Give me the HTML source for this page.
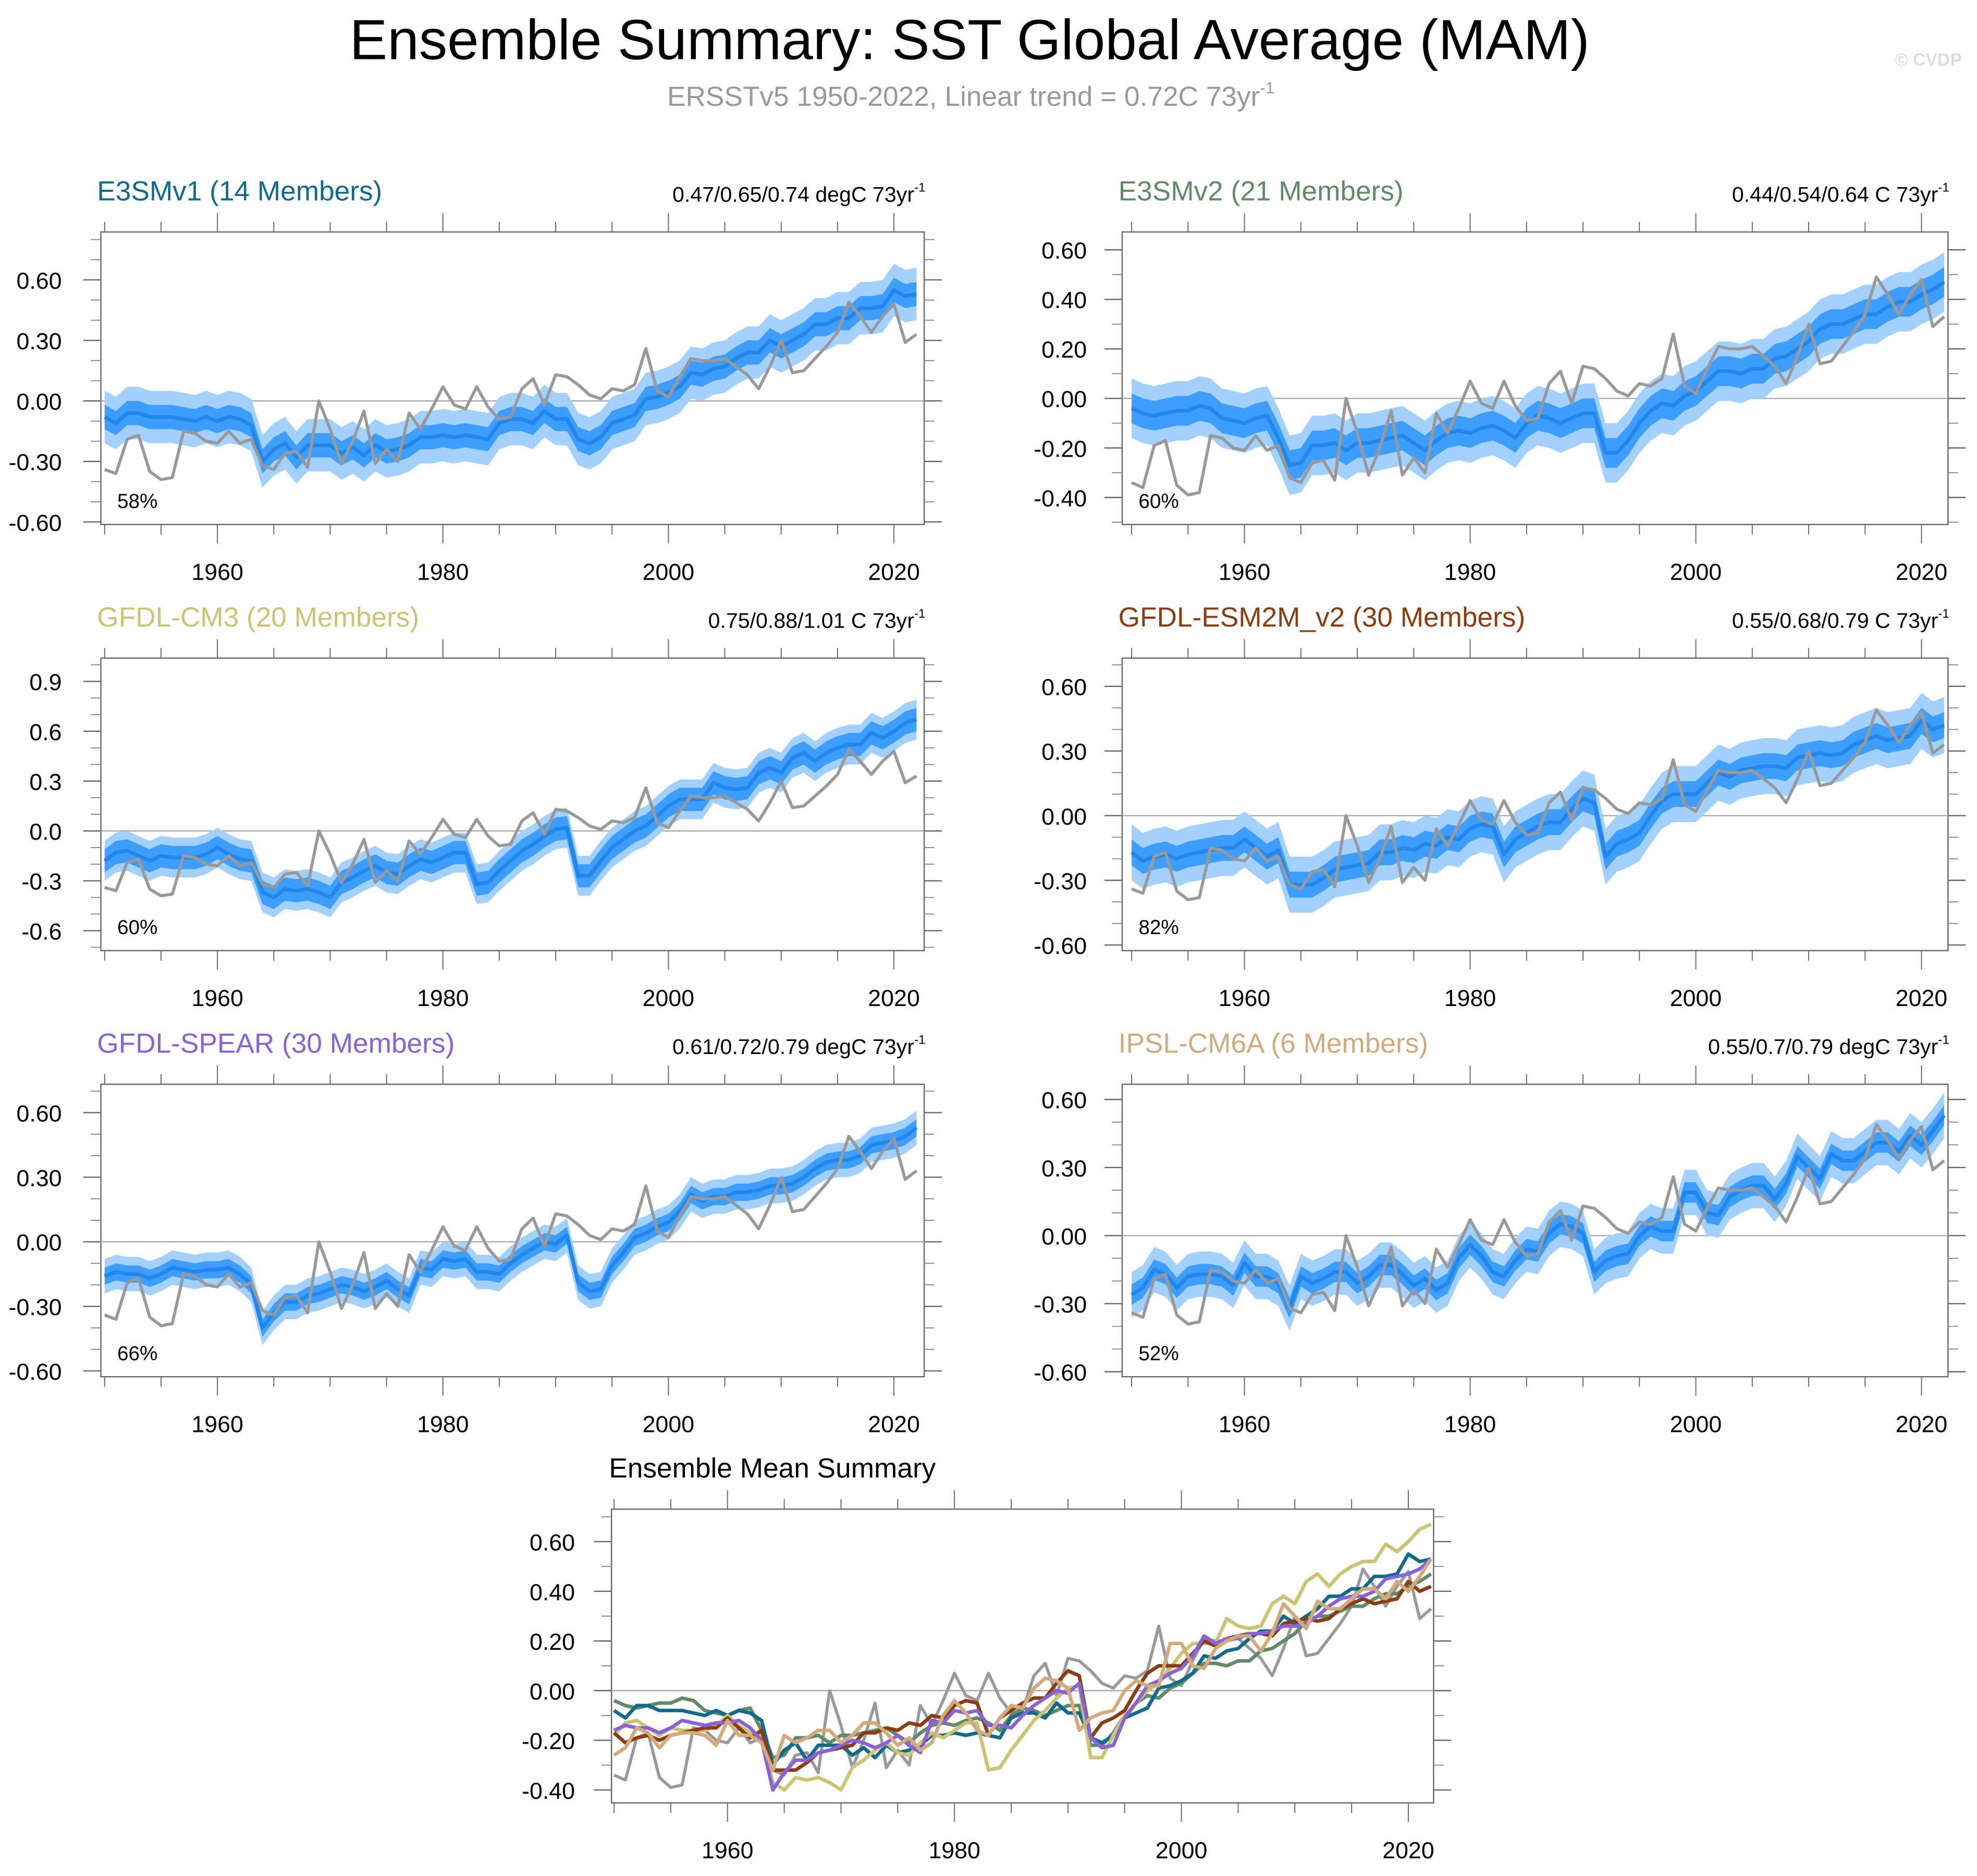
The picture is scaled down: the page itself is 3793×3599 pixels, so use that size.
<!DOCTYPE html>
<html><head><meta charset="utf-8">
<style>
html,body{margin:0;padding:0;background:#fff;}
svg{display:block;}
text{font-family:"Liberation Sans",sans-serif;}
</style></head>
<body>
<svg id="chart" xmlns="http://www.w3.org/2000/svg" width="3793" height="3599" viewBox="0 0 1568 1488" preserveAspectRatio="none">
<rect x="0" y="0" width="1568" height="1488" fill="#fff"/>
<text x="769" y="47" font-size="45" text-anchor="middle" fill="#000">Ensemble Summary: SST Global Average (MAM)</text>
<text x="770" y="84" font-size="22" text-anchor="middle" fill="#999">ERSSTv5 1950-2022, Linear trend = 0.72C 73yr<tspan font-size="13" dy="-10">-1</tspan></text>
<text x="1556" y="52" font-size="14" font-weight="bold" text-anchor="end" fill="#ddd">© CVDP</text>
</svg>
<script>
const years = [];
for (let y = 1950; y <= 2022; y++) years.push(y);

const obs = [-0.34,-0.36,-0.19,-0.17,-0.35,-0.39,-0.38,-0.15,-0.16,-0.20,
 -0.21,-0.15,-0.21,-0.19,-0.32,-0.34,-0.26,-0.25,-0.33,0.00,
 -0.14,-0.31,-0.20,-0.05,-0.31,-0.24,-0.30,-0.06,-0.14,-0.04,
 0.07,-0.02,-0.04,0.07,-0.03,-0.09,-0.08,0.06,0.11,-0.02,
 0.13,0.12,0.08,0.03,0.01,0.06,0.05,0.08,0.26,0.05,
 0.02,0.12,0.21,0.20,0.20,0.21,0.17,0.13,0.06,0.17,
 0.30,0.14,0.15,0.21,0.27,0.34,0.49,0.42,0.34,0.42,
 0.48,0.29,0.33];

const e3smv1 = [-0.08,-0.11,-0.06,-0.06,-0.08,-0.08,-0.08,-0.09,-0.10,-0.08,
 -0.10,-0.08,-0.09,-0.12,-0.30,-0.24,-0.21,-0.28,-0.22,-0.22,
 -0.22,-0.26,-0.23,-0.27,-0.22,-0.25,-0.24,-0.22,-0.18,-0.18,
 -0.17,-0.18,-0.17,-0.18,-0.19,-0.11,-0.09,-0.09,-0.11,-0.05,
 -0.09,-0.09,-0.19,-0.21,-0.18,-0.11,-0.09,-0.07,0.01,0.02,
 0.04,0.07,0.14,0.13,0.16,0.17,0.21,0.24,0.24,0.30,
 0.27,0.30,0.33,0.38,0.38,0.41,0.41,0.46,0.46,0.47,
 0.55,0.52,0.53];

const e3smv2 = [-0.04,-0.06,-0.07,-0.06,-0.05,-0.05,-0.03,-0.04,-0.08,-0.09,
 -0.10,-0.08,-0.07,-0.16,-0.27,-0.26,-0.19,-0.19,-0.18,-0.21,
 -0.18,-0.18,-0.17,-0.16,-0.15,-0.18,-0.21,-0.17,-0.14,-0.13,
 -0.14,-0.12,-0.11,-0.13,-0.16,-0.10,-0.07,-0.08,-0.10,-0.08,
 -0.06,-0.06,-0.22,-0.22,-0.17,-0.10,-0.05,-0.02,-0.03,0.01,
 0.03,0.07,0.11,0.11,0.10,0.12,0.12,0.16,0.17,0.20,
 0.23,0.28,0.30,0.30,0.32,0.34,0.34,0.37,0.39,0.39,
 0.42,0.44,0.47];

const cm3 = [-0.18,-0.13,-0.12,-0.15,-0.18,-0.15,-0.16,-0.16,-0.16,-0.14,
 -0.10,-0.14,-0.17,-0.18,-0.37,-0.40,-0.35,-0.36,-0.35,-0.37,
 -0.40,-0.31,-0.28,-0.24,-0.21,-0.25,-0.26,-0.21,-0.17,-0.19,
 -0.16,-0.13,-0.13,-0.32,-0.31,-0.24,-0.18,-0.12,-0.08,-0.03,
 0.01,0.02,-0.27,-0.27,-0.18,-0.10,-0.05,0.00,0.03,0.09,
 0.15,0.19,0.19,0.19,0.29,0.26,0.25,0.26,0.35,0.38,
 0.35,0.44,0.47,0.42,0.47,0.50,0.52,0.52,0.59,0.56,
 0.60,0.65,0.67];

const esm2m = [-0.17,-0.21,-0.19,-0.18,-0.20,-0.18,-0.17,-0.16,-0.15,-0.15,
 -0.11,-0.15,-0.19,-0.16,-0.32,-0.32,-0.32,-0.29,-0.25,-0.24,
 -0.23,-0.22,-0.17,-0.17,-0.15,-0.16,-0.13,-0.14,-0.10,-0.11,
 -0.06,-0.04,-0.05,-0.18,-0.11,-0.08,-0.05,-0.03,-0.03,0.03,
 0.08,0.06,-0.19,-0.13,-0.11,-0.08,0.00,0.07,0.10,0.10,
 0.10,0.15,0.20,0.18,0.21,0.22,0.23,0.23,0.22,0.27,
 0.28,0.29,0.28,0.29,0.33,0.35,0.37,0.35,0.36,0.37,
 0.44,0.40,0.42];

const spear = [-0.16,-0.14,-0.15,-0.15,-0.17,-0.15,-0.12,-0.13,-0.14,-0.13,
 -0.13,-0.12,-0.15,-0.20,-0.40,-0.33,-0.28,-0.28,-0.25,-0.24,
 -0.22,-0.20,-0.21,-0.23,-0.21,-0.18,-0.22,-0.25,-0.12,-0.13,
 -0.08,-0.09,-0.08,-0.14,-0.14,-0.15,-0.10,-0.06,-0.03,0.00,
 -0.01,0.03,-0.19,-0.23,-0.22,-0.11,-0.05,0.02,0.04,0.07,
 0.09,0.14,0.22,0.19,0.21,0.21,0.23,0.23,0.24,0.26,
 0.26,0.27,0.30,0.34,0.37,0.38,0.38,0.40,0.45,0.46,
 0.47,0.49,0.53];

const ipsl = [-0.26,-0.23,-0.15,-0.17,-0.23,-0.18,-0.17,-0.17,-0.18,-0.22,
 -0.12,-0.18,-0.18,-0.21,-0.32,-0.18,-0.21,-0.19,-0.16,-0.16,
 -0.21,-0.18,-0.13,-0.13,-0.17,-0.22,-0.19,-0.24,-0.21,-0.10,
 -0.04,-0.09,-0.16,-0.18,-0.11,-0.06,-0.07,0.01,0.05,0.04,
 0.01,-0.16,-0.11,-0.09,-0.08,0.00,0.04,0.02,0.02,0.19,
 0.19,0.10,0.09,0.17,0.20,0.22,0.22,0.16,0.23,0.35,
 0.30,0.25,0.36,0.33,0.33,0.37,0.41,0.41,0.37,0.44,
 0.40,0.46,0.53];

const modelNames = ["E3SMv1 (14 Members)","E3SMv2 (21 Members)","GFDL-CM3 (20 Members)","GFDL-ESM2M_v2 (30 Members)","GFDL-SPEAR (30 Members)","IPSL-CM6A (6 Members)"];
const trendLabels = ["0.47/0.65/0.74 degC 73yr","0.44/0.54/0.64 C 73yr","0.75/0.88/1.01 C 73yr","0.55/0.68/0.79 C 73yr","0.61/0.72/0.79 degC 73yr","0.55/0.7/0.79 degC 73yr"];
const pctLabels = ["58%","60%","60%","82%","66%","52%"];
const innerHalf = [0.06,0.06,0.07,0.06,0.04,0.045];
const outerHalf = [0.13,0.12,0.12,0.13,0.08,0.10];
const yTickValues = [
 [-0.6,-0.3,0,0.3,0.6],
 [-0.4,-0.2,0,0.2,0.4,0.6],
 [-0.6,-0.3,0,0.3,0.6,0.9],
 [-0.6,-0.3,0,0.3,0.6],
 [-0.6,-0.3,0,0.3,0.6],
 [-0.6,-0.3,0,0.3,0.6]];
const yTickLabels = [
 ["-0.60","-0.30","0.00","0.30","0.60"],
 ["-0.40","-0.20","0.00","0.20","0.40","0.60"],
 ["-0.6","-0.3","0.0","0.3","0.6","0.9"],
 ["-0.60","-0.30","0.00","0.30","0.60"],
 ["-0.60","-0.30","0.00","0.30","0.60"],
 ["-0.60","-0.30","0.00","0.30","0.60"]];
const xTickYears = [1960,1980,2000,2020];
const ensTickValues = [-0.4,-0.2,0,0.2,0.4,0.6];
const ensTickLabels = ["-0.40","-0.20","0.00","0.20","0.40","0.60"];

const svg = document.getElementById('chart');
const NS = 'http://www.w3.org/2000/svg';
function mk(tag, attrs, parent) {
  const e = document.createElementNS(NS, tag);
  for (const k in attrs) e.setAttribute(k, attrs[k]);
  (parent || svg).appendChild(e);
  return e;
}

const modelSeries = [e3smv1,e3smv2,cm3,esm2m,spear,ipsl];
const titleColors = ["#0f6a8b","#5f8b68","#cbc475","#8a3d12","#8a62d8","#d2ab7c"];
const lineColors = ["#0f6a8b","#5f8b68","#cbc475","#8a3d12","#8a62d8","#d2ab7c"];

const panels = [
 {x0:80,x1:733,y0:184,y1:416,vTop:0.8375,vBot:-0.6125,minor:0.1,tx:49},
 {x0:890,x1:1545,y0:184,y1:416,vTop:0.672,vBot:-0.509,minor:0.1,tx:862},
 {x0:80,x1:733,y0:522,y1:754,vTop:1.04,vBot:-0.72,minor:0.1,tx:49},
 {x0:890,x1:1545,y0:522,y1:754,vTop:0.731,vBot:-0.626,minor:0.1,tx:862},
 {x0:80,x1:733,y0:860,y1:1092,vTop:0.732,vBot:-0.627,minor:0.1,tx:49},
 {x0:890,x1:1545,y0:860,y1:1092,vTop:0.667,vBot:-0.622,minor:0.1,tx:862}
];

function axesFor(p, x1950, x2020) {
  const sx = y => x1950 + (y - 1950) * (x2020 - x1950) / 70;
  const sy = v => p.y0 + (p.vTop - v) * (p.y1 - p.y0) / (p.vTop - p.vBot);
  return {sx, sy};
}

function drawFrame(g, p, sx, sy, ticks, labels) {
  mk('rect', {x:p.x0,y:p.y0,width:p.x1-p.x0,height:p.y1-p.y0,fill:'#fff',stroke:'#666','stroke-width':1}, g);
  const zl = mk('line', {x1:p.x0,x2:p.x1,y1:sy(0),y2:sy(0),stroke:'#aaa','stroke-width':1}, g);
  
  
  for (let yr = 1950; yr <= 2020; yr += 5) {
    const major = yr % 20 === 0;
    const L = major ? 15 : 8;
    const x = sx(yr);
    mk('line', {x1:x,x2:x,y1:p.y0,y2:p.y0-L,stroke:'#666','stroke-width':0.8}, g);
    mk('line', {x1:x,x2:x,y1:p.y1,y2:p.y1+L,stroke:'#666','stroke-width':0.8}, g);
  }
  xTickYears.forEach(yr => {
    const t = mk('text', {x:sx(yr), y:p.y1+44, 'font-size':18.5, 'text-anchor':'middle', fill:'#000'}, g);
    t.textContent = String(yr);
    
    
  });
  const start = Math.ceil(p.vBot / p.minor - 1e-6), end = Math.floor(p.vTop / p.minor + 1e-6);
  for (let i = start; i <= end; i++) {
    const y = sy(i * p.minor);
    mk('line', {x1:p.x0,x2:p.x0-8,y1:y,y2:y,stroke:'#888','stroke-width':0.8}, g);
    mk('line', {x1:p.x1,x2:p.x1+8,y1:y,y2:y,stroke:'#888','stroke-width':0.8}, g);
  }
  ticks.forEach((v, i) => {
    const y = sy(v);
    mk('line', {x1:p.x0,x2:p.x0-14,y1:y,y2:y,stroke:'#666','stroke-width':1}, g);
    mk('line', {x1:p.x1,x2:p.x1+14,y1:y,y2:y,stroke:'#666','stroke-width':1}, g);
    const t = mk('text', {x:p.tx, y:y+7, 'font-size':18.5, 'text-anchor':'end', fill:'#000'}, g);
    t.textContent = labels[i];
    
    
  });
}

function linePath(arr, sx, sy) {
  return arr.map((v, i) => (i ? 'L' : 'M') + sx(years[i]).toFixed(2) + ',' + sy(v).toFixed(2)).join('');
}
function bandPath(arr, h, sx, sy) {
  let d = arr.map((v, i) => (i ? 'L' : 'M') + sx(years[i]).toFixed(2) + ',' + sy(v + h).toFixed(2)).join('');
  for (let i = arr.length - 1; i >= 0; i--) d += 'L' + sx(years[i]).toFixed(2) + ',' + sy(arr[i] - h).toFixed(2);
  return d + 'Z';
}

panels.forEach((p, k) => {
  const g = mk('g', {});
  
  
  const left = p.x0 < 500;
  const {sx, sy} = left ? axesFor(p, 83, 709) : axesFor(p, 897.5, 1524);
  drawFrame(g, p, sx, sy, yTickValues[k], yTickLabels[k]);
  const data = modelSeries[k];
  const outer = mk('path', {d:bandPath(data, outerHalf[k], sx, sy), fill:'#a3d1ff', stroke:'none'}, g);
  
  
  const inner = mk('path', {d:bandPath(data, innerHalf[k], sx, sy), fill:'#3d9eff', stroke:'none'}, g);
  
  
  const mean = mk('path', {d:linePath(data, sx, sy), fill:'none', stroke:'#2187ea', 'stroke-width':3, 'stroke-linejoin':'round'}, g);
  
  
  const ob = mk('path', {d:linePath(obs, sx, sy), fill:'none', stroke:'#999', 'stroke-width':2.4, 'stroke-linejoin':'round'}, g);
  
  
  const t = mk('text', {x:p.x0-3, y:p.y0-25, 'font-size':22, fill:titleColors[k]}, g);
  t.textContent = modelNames[k];
  
  
  const tr = mk('text', {x:p.x1+1, y:p.y0-24, 'font-size':17, 'text-anchor':'end', fill:'#000'}, g);
  tr.textContent = trendLabels[k];
  const sup = mk('tspan', {'font-size':10, dy:-8}, tr);
  sup.textContent = '-1';
  
  
  const pc = mk('text', {x:p.x0+13, y:p.y1-13, 'font-size':16, fill:'#000'}, g);
  pc.textContent = pctLabels[k];
  
  
});

(function(){
  const p = {x0:485,x1:1137,y0:1197,y1:1430,vTop:0.731,vBot:-0.452,minor:0.1,tx:456};
  const g = mk('g', {});
  
  
  const {sx, sy} = axesFor(p, 487, 1117);
  drawFrame(g, p, sx, sy, ensTickValues, ensTickLabels);
  const ob = mk('path', {d:linePath(obs, sx, sy), fill:'none', stroke:'#999', 'stroke-width':2.4, 'stroke-linejoin':'round'}, g);
  
  
  const order = [1,0,2,3,4,5];
  order.forEach(k => {
    const l = mk('path', {d:linePath(modelSeries[k], sx, sy), fill:'none', stroke:lineColors[k], 'stroke-width':2.8, 'stroke-linejoin':'round'}, g);
    
    
  });
  const t = mk('text', {x:483, y:1172, 'font-size':22, fill:'#000'}, g);
  t.textContent = 'Ensemble Mean Summary';
  
  
})();
</script>
</body></html>
